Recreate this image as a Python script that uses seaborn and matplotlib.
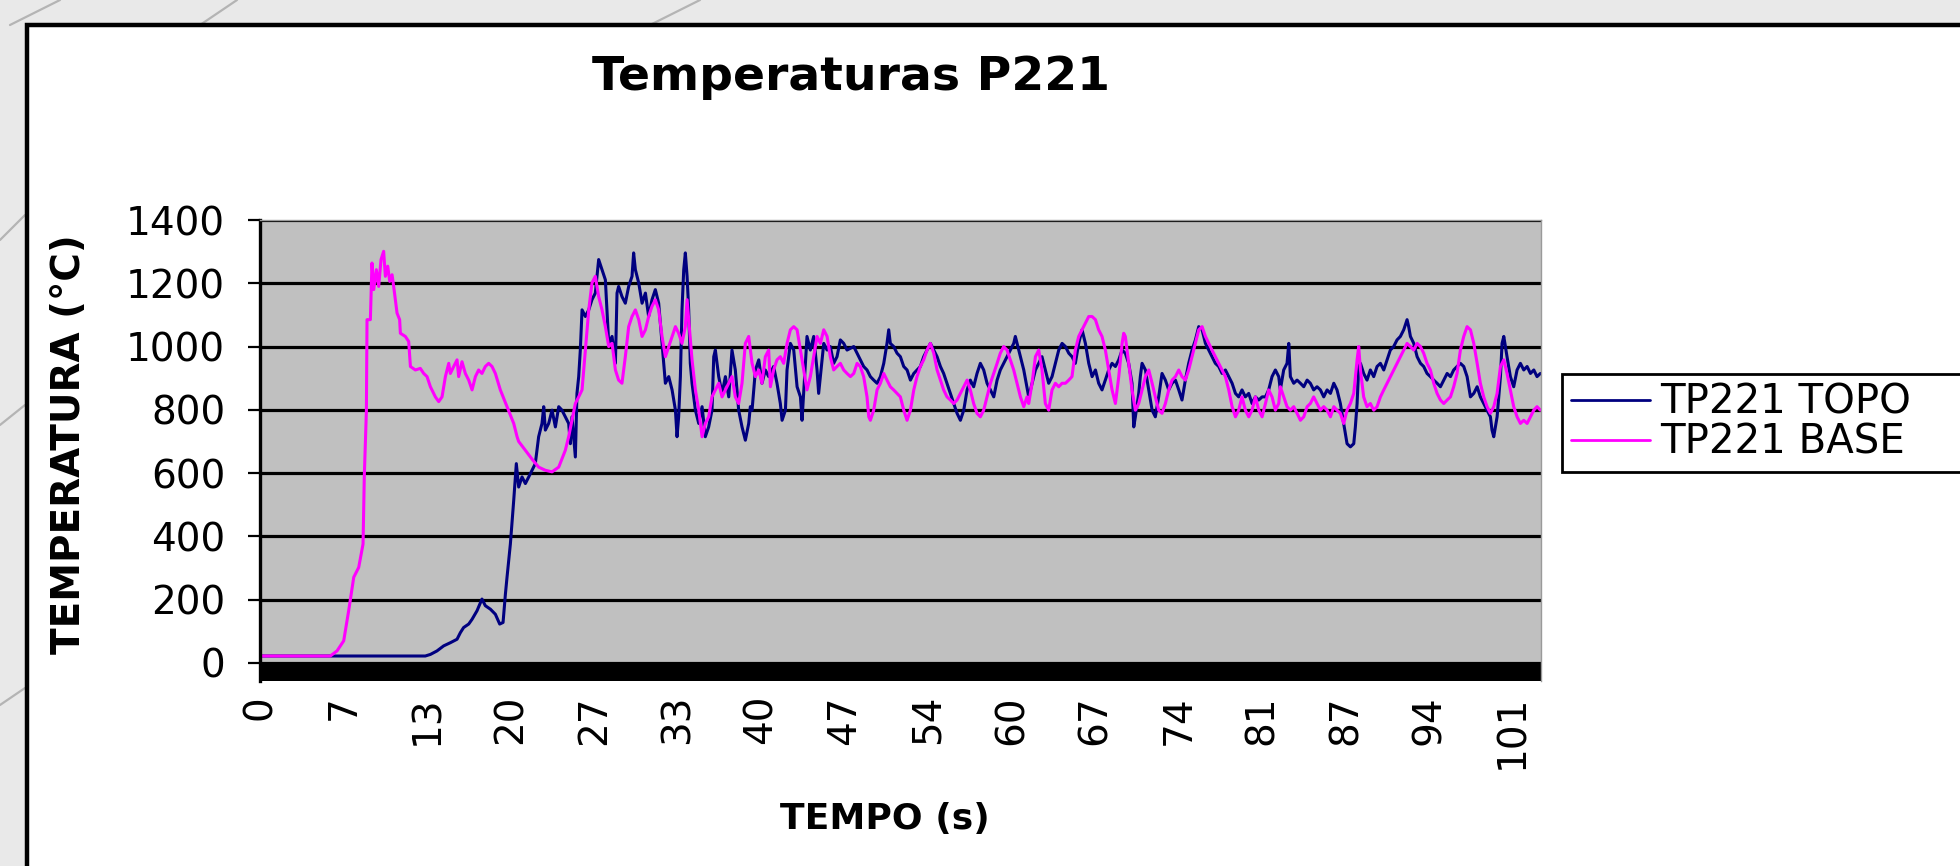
import numpy as np
import pandas as pd
import matplotlib
matplotlib.use("Agg")
import matplotlib.pyplot as plt
from matplotlib.patches import Rectangle
from matplotlib.lines import Line2D
import seaborn as sns

# ---------------- data ----------------
title = "Temperaturas P221"
x_label = "TEMPO (s)"
y_label = "TEMPERATURA (°C)"
series_names = ["TP221 TOPO", "TP221 BASE"]
series_colors = ["#000080", "#ff00ff"]
x_tick_labels = ["0", "7", "13", "20", "27", "33", "40", "47", "54", "60",
                 "67", "74", "81", "87", "94", "101"]
y_ticks = [0, 200, 400, 600, 800, 1000, 1200, 1400]

t_topo = [0, 13.33, 13.74, 14.27, 14.81, 15.35, 15.89, 16.16, 16.42, 16.83, 17.1, 17.5, 17.9, 18.17, 18.58,
          18.98, 19.33, 19.6, 19.79, 19.92, 20.19, 20.46, 20.67,
          20.86, 21.13, 21.4, 21.8, 22.2, 22.47, 22.74, 22.88, 23.01, 23.28, 23.55, 23.82, 24.09, 24.35, 24.62,
          24.89, 25.03, 25.16, 25.43, 25.56, 25.7, 25.83, 25.97, 26.24, 26.51, 26.77, 27.04, 27.31, 27.58, 27.85,
          28.12, 28.39, 28.66, 28.79, 28.92, 29.19, 29.46, 29.73, 30.0, 30.13, 30.27, 30.54, 30.81, 31.08, 31.34,
          31.61, 31.88, 32.15, 32.42, 32.69, 32.96, 33.23, 33.5, 33.63, 33.76, 33.9, 34.03, 34.17, 34.3, 34.44,
          34.57, 34.7, 34.84, 35.11, 35.38, 35.65, 35.91, 36.18, 36.45, 36.59, 36.72, 36.99, 37.26, 37.53, 37.8,
          38.06, 38.33, 38.6, 38.87, 39.14, 39.41, 39.54, 39.68, 39.95, 40.22, 40.48, 40.75, 41.02,
          41.42, 41.69, 41.96, 42.1, 42.37, 42.5, 42.77, 43.04, 43.31, 43.58, 43.71, 43.84, 44.11, 44.38, 44.65,
          44.92, 45.05, 45.19, 45.46, 45.73, 45.99, 46.26, 46.53, 46.8, 47.07, 47.34, 47.88, 48.15, 48.41, 48.68,
          48.95, 49.22, 49.49, 49.76, 50.03, 50.3, 50.56, 50.7, 50.83, 51.1, 51.37, 51.64, 51.91, 52.18, 52.45,
          52.72, 52.98, 53.25, 53.52, 53.79, 54.06, 54.33, 54.6, 54.87, 55.13, 55.4, 55.67, 55.94, 56.21, 56.48,
          56.75, 57.02, 57.28, 57.55, 57.82, 58.09, 58.36, 58.63, 58.9, 59.17, 59.44, 59.7, 59.97, 60.24, 60.51,
          60.78, 60.91, 61.05, 61.32, 61.59,
          61.99, 62.26, 62.53, 62.8, 63.06, 63.33, 63.6, 63.87, 64.14, 64.41, 64.68, 64.95, 65.22, 65.48, 65.75,
          66.02, 66.29, 66.56, 66.83, 67.1, 67.37, 67.63, 67.9, 68.17, 68.44, 68.71, 68.98, 69.25, 69.52, 69.78,
          70.05, 70.32, 70.46, 70.59, 70.86, 70.99, 71.13, 71.4, 71.67, 71.94, 72.2, 72.47, 72.74, 73.01, 73.28,
          73.55, 73.82, 74.09, 74.35, 74.62, 74.89, 75.16, 75.43, 75.7, 75.97, 76.24, 76.51, 76.77, 77.04, 77.31,
          77.58, 77.85, 78.12, 78.39, 78.66, 78.92, 79.19, 79.46, 79.73, 80.0, 80.27, 80.54, 80.81, 81.08, 81.34,
          81.61, 81.88, 82.15,
          82.28, 82.55, 82.82, 82.96, 83.09, 83.36, 83.63, 83.9, 84.17, 84.44, 84.7, 84.97, 85.24, 85.51, 85.78,
          86.05, 86.32, 86.59, 86.85, 87.12, 87.39, 87.66, 87.93, 88.2, 88.33, 88.47, 88.6, 88.74, 89.0, 89.27,
          89.54, 89.81, 90.08, 90.35, 90.62, 90.89, 91.15, 91.42, 91.69, 91.96, 92.23, 92.5, 92.63, 92.77, 93.04,
          93.31, 93.58, 93.84, 94.11, 94.38, 94.65, 94.92, 95.19, 95.46, 95.73, 96.0, 96.26, 96.53, 96.8, 97.07,
          97.34, 97.61, 97.88, 98.15, 98.41, 98.68, 98.95, 99.22, 99.35, 99.49, 99.76, 100.03, 100.16, 100.3,
          100.56, 100.83, 101.1, 101.37, 101.64, 101.91, 102.18, 102.45, 102.72, 102.98, 103.25]
v_topo = [22, 22, 27, 38, 54, 64, 75, 96, 112, 123, 138, 165, 202, 181, 170,
          154, 123, 128, 218, 271, 376, 514, 630,
          556, 588, 567, 598, 630, 715, 757, 810, 736, 757, 799, 746, 810, 799, 778,
          757, 693, 778, 651, 852, 905, 989, 1116, 1095, 1116, 1148, 1169, 1275, 1243, 1211,
          1010, 1032, 947, 1169, 1190, 1158, 1137, 1190, 1222, 1296, 1243, 1201, 1137, 1169, 1095,
          1148, 1180, 1137, 1010, 884, 905, 863, 799, 715, 778, 905, 1116, 1243, 1296, 1222,
          1116, 947, 884, 799, 757, 810, 715, 746, 799, 968, 989, 905, 852, 905, 841,
          989, 926, 799, 746, 704, 757, 810, 799, 926, 958, 884, 926, 905,
          937, 884, 820, 767, 799, 926, 1010, 989, 873, 841, 767, 852, 1032, 989, 1032,
          926, 852, 905, 1010, 989, 1000, 947, 968, 1021, 1010, 989, 1000, 979, 958, 937,
          926, 905, 894, 884, 905, 947, 1010, 1053, 1010, 1000, 979, 968, 937, 926, 894,
          915, 926, 937, 968, 989, 1010, 989, 968, 937, 915, 884, 852, 820, 789, 767,
          799, 863, 894, 873, 915, 947, 926, 884, 863, 841, 894, 926, 947, 968, 989,
          1010, 1032, 1010, 968, 926,
          841, 884, 926, 947, 968, 926, 884, 905, 947, 989, 1010, 1000, 979, 968, 947,
          1010, 1053, 1010, 947, 905, 926, 884, 863, 894, 926, 947, 937, 958, 989, 979,
          947, 884, 746, 778, 852, 905, 947, 926, 863, 799, 778, 841, 915, 894, 863,
          884, 894, 863, 831, 894, 947, 989, 1021, 1063, 1053, 1010, 989, 968, 947, 937,
          915, 926, 905, 884, 852, 841, 863, 841, 852, 820, 841, 831, 841, 841, 863,
          905, 926, 905,
          863, 926, 947, 1010, 905, 884, 894, 884, 873, 894, 884, 863, 873, 863, 841,
          863, 852, 884, 863, 820, 757, 693, 683, 693, 746, 820, 937, 947, 915, 894,
          926, 905, 937, 947, 926, 958, 989, 1000, 1021, 1032, 1053, 1085, 1063, 1032, 1010,
          968, 947, 937, 915, 905, 894, 884, 873, 894, 915, 905, 926, 937, 947, 937,
          905, 841, 852, 873, 841, 820, 799, 778, 736, 715, 778, 905, 1010, 1032,
          968, 905, 873, 926, 947, 926, 937, 915, 926, 905, 915]

t_base = [0, 5.67, 6.21, 6.75, 7.15, 7.56, 7.96, 8.31, 8.41, 8.58, 8.63, 8.9, 9.03, 9.17, 9.38,
          9.57, 9.76, 9.97, 10.11, 10.3, 10.46, 10.65, 10.78, 11.05, 11.26, 11.32, 11.72, 11.99, 12.13, 12.53,
          12.93, 13.2, 13.47, 13.74, 14.14, 14.41, 14.68, 14.95, 15.22, 15.35, 15.62, 15.89, 16.02, 16.29, 16.56,
          16.83, 17.1, 17.37, 17.63, 17.9, 18.17, 18.44, 18.71, 18.98, 19.38, 19.92, 20.46, 20.73,
          20.86, 21.4, 22.0, 22.47, 23.01, 23.55, 24.09, 24.62, 24.89, 25.16, 25.43, 25.7, 25.97, 26.24, 26.51,
          26.77, 27.04, 27.31, 27.58, 27.85, 28.12, 28.39, 28.66, 28.92, 29.19, 29.46, 29.73, 30.0, 30.27, 30.54,
          30.81, 31.08, 31.34, 31.61, 31.88, 32.15, 32.42, 32.69, 32.96, 33.23, 33.5, 33.76, 34.03, 34.3, 34.44,
          34.57, 34.84, 35.11, 35.38, 35.65, 35.91, 36.18, 36.45, 36.72, 36.99, 37.26, 37.53, 38.06, 38.33, 38.6,
          38.87, 39.14, 39.41, 39.68, 39.95, 40.22, 40.48, 40.75, 41.02,
          41.16, 41.42, 41.69, 41.96, 42.23, 42.5, 42.77, 43.04, 43.31, 43.58, 43.84, 44.11, 44.38, 44.65, 44.92,
          45.19, 45.46, 45.73, 45.99, 46.26, 46.53, 46.8, 47.07, 47.34, 47.61, 47.88, 48.15, 48.41, 48.68, 48.95,
          49.09, 49.22, 49.49, 49.76, 50.03, 50.3, 50.56, 50.83, 51.1, 51.37, 51.64, 51.91, 52.18, 52.45, 52.72,
          52.98, 53.25, 53.52, 53.79, 54.06, 54.33, 54.6, 54.87, 55.13, 55.4, 55.67, 55.94, 56.21, 56.48, 56.75,
          57.02, 57.28, 57.55, 57.82, 58.09, 58.36, 58.63, 58.9, 59.17, 59.44, 59.7, 59.97, 60.24, 60.51, 60.78,
          61.05, 61.32, 61.59, 61.85,
          61.99, 62.26, 62.53, 62.8, 63.06, 63.33, 63.6, 63.87, 64.14, 64.41, 64.68, 64.95, 65.22, 65.48, 65.75,
          66.02, 66.29, 66.56, 66.83, 67.1, 67.37, 67.63, 67.9, 68.17, 68.44, 68.71, 68.98, 69.25, 69.52, 69.65,
          69.78, 70.05, 70.32, 70.59, 70.86, 71.13, 71.4, 71.67, 71.94, 72.2, 72.47, 72.74, 73.01, 73.28, 73.55,
          73.82, 74.09, 74.35, 74.62, 74.89, 75.16, 75.43, 75.7, 75.97, 76.24, 76.51, 76.77, 77.04, 77.31, 77.58,
          77.85, 78.12, 78.39, 78.66, 78.92, 79.19, 79.46, 79.73, 80.0, 80.27, 80.54, 80.81, 81.08, 81.34, 81.61,
          81.88, 82.15,
          82.28, 82.55, 82.82, 83.09, 83.36, 83.63, 83.9, 84.17, 84.44, 84.7, 84.97, 85.24, 85.51, 85.78, 86.05,
          86.32, 86.59, 86.85, 87.12, 87.39, 87.66, 87.93, 88.2, 88.47, 88.6, 88.74, 89.0, 89.27, 89.54, 89.81,
          90.08, 90.35, 90.62, 90.89, 91.15, 91.42, 91.69, 91.96, 92.23, 92.5, 92.77, 93.04, 93.31, 93.58, 93.84,
          94.11, 94.38, 94.65, 94.92, 95.19, 95.46, 95.73, 96.0, 96.26, 96.53, 96.8, 97.07, 97.34, 97.61, 97.88,
          98.15, 98.41, 98.68, 98.95, 99.22, 99.49, 99.76, 100.03, 100.3, 100.56, 100.83, 101.1, 101.37, 101.64,
          101.91, 102.18, 102.45, 102.72, 102.98, 103.25]
v_base = [22, 22, 38, 70, 165, 271, 302, 376, 588, 799, 1085, 1085, 1264, 1180, 1243,
          1190, 1275, 1301, 1222, 1254, 1206, 1227, 1190, 1106, 1085, 1042, 1032, 1016, 937, 926,
          931, 915, 905, 873, 841, 826, 841, 905, 947, 915, 937, 958, 905, 952, 915,
          894, 863, 905, 926, 915, 937, 947, 937, 915, 863, 810, 757, 715,
          700, 672, 641, 619, 609, 604, 619, 672, 715, 767, 820, 841, 863, 989, 1116,
          1201, 1222, 1158, 1116, 1063, 1000, 1010, 926, 894, 884, 968, 1063, 1095, 1116, 1085,
          1032, 1053, 1095, 1127, 1148, 1116, 1032, 968, 1000, 1032, 1063, 1042, 1010, 1063, 1148,
          1085, 958, 863, 799, 715, 757, 778, 841, 863, 884, 841, 863, 905, 841, 820,
          884, 1010, 1032, 947, 905, 926, 884, 968, 989,
          873, 926, 958, 968, 947, 1010, 1053, 1063, 1053, 989, 926, 863, 905, 968, 1032,
          1010, 1053, 1032, 968, 926, 937, 947, 926, 915, 905, 915, 947, 937, 905, 841,
          778, 767, 799, 863, 884, 915, 894, 873, 863, 852, 841, 799, 767, 799, 863,
          905, 937, 958, 989, 1010, 979, 926, 894, 863, 841, 831, 820, 831, 852, 873,
          894, 863, 820, 789, 778, 799, 841, 884, 915, 947, 979, 1000, 989, 958, 926,
          884, 841, 810, 841,
          820, 884, 968, 989, 926, 820, 799, 863, 884, 873, 884, 884, 894, 905, 989,
          1032, 1053, 1074, 1095, 1095, 1085, 1053, 1032, 989, 926, 863, 820, 905, 1010, 1042,
          1032, 947, 863, 799, 820, 863, 905, 926, 884, 841, 799, 789, 820, 863, 894,
          905, 926, 905, 894, 926, 968, 1010, 1053, 1063, 1032, 1010, 989, 968, 947, 926,
          905, 863, 810, 778, 799, 841, 799, 778, 799, 841, 799, 778, 820, 863, 841,
          799, 820,
          873, 841, 810, 799, 810, 789, 767, 778, 810, 820, 841, 820, 799, 810, 799,
          778, 810, 799, 789, 757, 799, 820, 852, 958, 1000, 926, 841, 810, 820, 799,
          810, 841, 863, 884, 905, 926, 947, 968, 989, 1010, 1000, 989, 1010, 1000, 979,
          947, 926, 884, 852, 831, 820, 831, 841, 873, 915, 989, 1032, 1063, 1053, 1010,
          947, 884, 841, 810, 789, 810, 852, 937, 958, 915, 863, 810, 778, 757,
          767, 757, 778, 799, 810, 799]

# ---------------- table ----------------
n1 = min(len(t_topo), len(v_topo))
n2 = min(len(t_base), len(v_base))
df = pd.concat([
    pd.DataFrame({"t": t_topo[:n1], "v": v_topo[:n1], "serie": series_names[0]}),
    pd.DataFrame({"t": t_base[:n2], "v": v_base[:n2], "serie": series_names[1]}),
], ignore_index=True)

# ---------------- style ----------------
sns.set_style("white")
plt.rcParams["font.family"] = ["DejaVu Sans"]
plt.rcParams["text.color"] = "black"
plt.rcParams["axes.labelcolor"] = "black"
plt.rcParams["xtick.color"] = "black"
plt.rcParams["ytick.color"] = "black"

W, H = 1960, 866
fig = plt.figure(figsize=(W / 100, H / 100), dpi=100)
fig.patch.set_facecolor("#e9e9e9")

# scan streaks outside the chart area
for (x0, y0, x1, y1) in [(10, 25, 60, 0), (200, 25, 237, 0), (650, 25, 700, 0),
                         (0, 240, 25, 215), (0, 425, 25, 405), (0, 705, 25, 688)]:
    fig.add_artist(Line2D([x0 / W, x1 / W], [1 - y0 / H, 1 - y1 / H], transform=fig.transFigure,
                          color="#b4b4b4", lw=1.6, zorder=-3))

# white chart area with black border
fig.add_artist(Rectangle((27 / W, -0.2), 2.0, (1 - 25 / H) + 0.2, transform=fig.transFigure,
                         facecolor="white", edgecolor="black", lw=3.2, zorder=-2))

L, R, T, B = 260, 1541, 220, 681
ax = fig.add_axes([L / W, 1 - B / H, (R - L) / W, (B - T) / H])
ax.set_facecolor("#c0c0c0")

sns.lineplot(data=df, x="t", y="v", hue="serie", hue_order=series_names,
             palette=series_colors, sort=False, estimator=None, lw=2.2, ax=ax)

ax.set_xlim(0, 103.3)
ax.set_ylim(-57, 1400)
ax.axhspan(-57, 0, color="black", zorder=0.8, lw=0)
ax.set_axisbelow(True)
ax.grid(axis="y", color="black", lw=2.3)
ax.grid(axis="x", visible=False)

ax.set_yticks(y_ticks)
ax.set_yticklabels([str(v) for v in y_ticks])
ax.set_xticks(np.linspace(0, 101, len(x_tick_labels)))
ax.set_xticklabels(x_tick_labels, rotation=90)
ax.tick_params(axis="y", direction="out", length=9, width=1.6, color="black",
               pad=16, labelsize=28, left=True, labelcolor="black")
ax.tick_params(axis="x", length=0, pad=10, labelsize=28, labelcolor="black")
for lab in ax.get_xticklabels():
    lab.set_va("top")

ax.spines["left"].set_color("black")
ax.spines["left"].set_linewidth(2.4)
ax.spines["bottom"].set_visible(False)
for s in ("top", "right"):
    ax.spines[s].set_color("#9a9a9a")
    ax.spines[s].set_linewidth(1.0)

ax.set_xlabel(x_label, fontsize=26, fontweight="bold", color="black")
ax.set_ylabel(y_label, fontsize=28, fontweight="bold", color="black")
ax.xaxis.label.set_va("center")
ax.yaxis.label.set_va("center")
ax.xaxis.set_label_coords((885 - L) / (R - L), -(819 - B) / (B - T))
ax.yaxis.set_label_coords((69 - L) / (R - L), (B - 444) / (B - T))

fig.text(851 / W, 1 - 78 / H, title, ha="center", va="center", fontsize=34,
         fontweight="bold", color="black")

handles, labels = ax.get_legend_handles_labels()
leg_top = 1 - 374 / H
leg = ax.legend(handles, labels, loc="upper left",
                bbox_to_anchor=(1562 / W, leg_top - 0.001, 450 / W, 0.001),
                bbox_transform=fig.transFigure, mode="expand",
                frameon=True, fancybox=False, shadow=False,
                edgecolor="black", facecolor="white", framealpha=1, fontsize=29,
                handlelength=1.96, handletextpad=0.25, borderpad=0.22,
                labelspacing=0.0, borderaxespad=0)
leg.get_frame().set_linewidth(2.0)
for h in leg.get_lines():
    h.set_linewidth(2.0)
for txt in leg.get_texts():
    txt.set_color("black")

fig.savefig("out.png", dpi=100, facecolor=fig.get_facecolor())
